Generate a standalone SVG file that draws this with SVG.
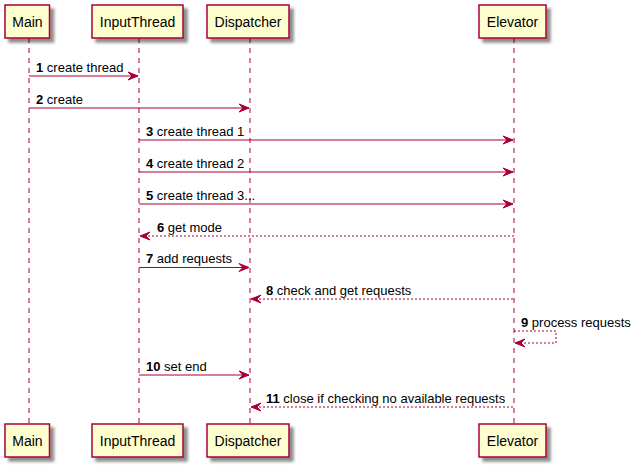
<svg xmlns="http://www.w3.org/2000/svg" width="638" height="470" viewBox="0 0 638 470">
<defs>
<filter id="sh" x="-20%" y="-20%" width="150%" height="160%">
<feGaussianBlur in="SourceAlpha" stdDeviation="1.8"/>
<feOffset dx="4" dy="4" result="b"/>
<feComponentTransfer><feFuncA type="linear" slope="0.45"/></feComponentTransfer>
<feMerge><feMergeNode/><feMergeNode in="SourceGraphic"/></feMerge>
</filter>
</defs>
<style>
.box{fill:#FEFECE;stroke:#A80036;stroke-width:1.5}
.life{stroke:#A80036;stroke-width:1;stroke-dasharray:5,5}
.pn{font-family:"Liberation Sans",Arial,sans-serif;font-size:14px;fill:#000;text-anchor:middle}
.msg{stroke:#A80036;stroke-width:1;fill:none}
.dash{stroke-dasharray:2,2}
.ah{fill:#A80036;stroke:#A80036;stroke-width:1}
.lbl{font-family:"Liberation Sans",Arial,sans-serif;font-size:13px;fill:#000}
.num{font-weight:bold}
</style>
<rect width="638" height="470" fill="#FFFFFF"/>
<g id="lifelines">
<line class="life" x1="29" y1="38" x2="29" y2="424"/>
<line class="life" x1="139" y1="38" x2="139" y2="424"/>
<line class="life" x1="250" y1="38" x2="250" y2="424"/>
<line class="life" x1="514" y1="38" x2="514" y2="424"/>
</g>
<g id="Main">
<rect class="box" x="5" y="5" width="44.5" height="33" filter="url(#sh)"/>
<text class="pn" x="27.5" y="27">Main</text>
<rect class="box" x="5" y="424" width="44.5" height="33" filter="url(#sh)"/>
<text class="pn" x="27.5" y="446">Main</text>
</g>
<g id="InputThread">
<rect class="box" x="92" y="5" width="91" height="33" filter="url(#sh)"/>
<text class="pn" x="137.5" y="27">InputThread</text>
<rect class="box" x="92" y="424" width="91" height="33" filter="url(#sh)"/>
<text class="pn" x="137.5" y="446">InputThread</text>
</g>
<g id="Dispatcher">
<rect class="box" x="207" y="5" width="82" height="33" filter="url(#sh)"/>
<text class="pn" x="248" y="27">Dispatcher</text>
<rect class="box" x="207" y="424" width="82" height="33" filter="url(#sh)"/>
<text class="pn" x="248" y="446">Dispatcher</text>
</g>
<g id="Elevator">
<rect class="box" x="479" y="5" width="67" height="33" filter="url(#sh)"/>
<text class="pn" x="512.5" y="27">Elevator</text>
<rect class="box" x="479" y="424" width="67" height="33" filter="url(#sh)"/>
<text class="pn" x="512.5" y="446">Elevator</text>
</g>
<g id="connectors">
<line class="msg" x1="29" y1="76" x2="138" y2="76"/>
<polygon class="ah" points="128,72 138,76 128,80 132,76"/>
<text class="lbl" x="36" y="71.5"><tspan class="num">1</tspan> create thread</text>

<line class="msg" x1="29" y1="108" x2="249" y2="108"/>
<polygon class="ah" points="239,104 249,108 239,112 243,108"/>
<text class="lbl" x="36" y="103.5"><tspan class="num">2</tspan> create</text>

<line class="msg" x1="139" y1="140" x2="513" y2="140"/>
<polygon class="ah" points="503,136 513,140 503,144 507,140"/>
<text class="lbl" x="146" y="135.5"><tspan class="num">3</tspan> create thread 1</text>

<line class="msg" x1="139" y1="172" x2="513" y2="172"/>
<polygon class="ah" points="503,168 513,172 503,176 507,172"/>
<text class="lbl" x="146" y="167.5"><tspan class="num">4</tspan> create thread 2</text>

<line class="msg" x1="139" y1="204" x2="513" y2="204"/>
<polygon class="ah" points="503,200 513,204 503,208 507,204"/>
<text class="lbl" x="146" y="199.5"><tspan class="num">5</tspan> create thread 3...</text>

<line class="msg dash" x1="140" y1="236" x2="514" y2="236"/>
<polygon class="ah" points="150,232 140,236 150,240 146,236"/>
<text class="lbl" x="157" y="231.5"><tspan class="num">6</tspan> get mode</text>

<line class="msg" x1="139" y1="267.5" x2="249" y2="267.5"/>
<polygon class="ah" points="239,263.5 249,267.5 239,271.5 243,267.5"/>
<text class="lbl" x="146" y="263"><tspan class="num">7</tspan> add requests</text>

<line class="msg dash" x1="251" y1="299" x2="514" y2="299"/>
<polygon class="ah" points="261,295 251,299 261,303 257,299"/>
<text class="lbl" x="266" y="294.5"><tspan class="num">8</tspan> check and get requests</text>

<polyline class="msg dash" points="514,331 556,331 556,343 515,343"/>
<polygon class="ah" points="525,339 515,343 525,347 521,343"/>
<text class="lbl" x="521" y="326.5"><tspan class="num">9</tspan> process requests</text>

<line class="msg" x1="139" y1="375" x2="249" y2="375"/>
<polygon class="ah" points="239,371 249,375 239,379 243,375"/>
<text class="lbl" x="146" y="370.5"><tspan class="num">10</tspan> set end</text>

<line class="msg dash" x1="251" y1="407" x2="514" y2="407"/>
<polygon class="ah" points="261,403 251,407 261,411 257,407"/>
<text class="lbl" x="266" y="402.5"><tspan class="num">11</tspan> close if checking no available requests</text>
</g>
</svg>
